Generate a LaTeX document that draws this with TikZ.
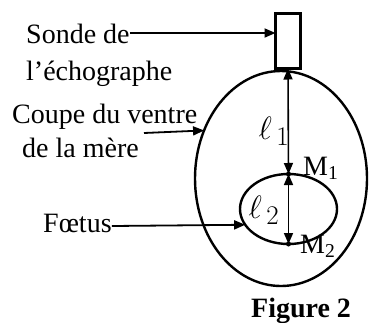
\documentclass[tikz,border=0pt]{standalone}
\usepackage{fontspec}
\setmainfont{Liberation Serif}
\usetikzlibrary{arrows.meta,shapes.geometric}
\tikzset{
  lbl/.style={anchor=base west,inner sep=0pt},
  fleche/.style={line width=1.8pt,-{Triangle[length=11pt,width=9pt]}},
  cote/.style={line width=1.6pt,{Triangle[length=11pt,width=9pt]}-{Triangle[length=11pt,width=9pt]}},
  contour/.style={draw,ellipse,line width=2.4pt,inner sep=0pt,outer sep=0pt},
  point/.style={circle,fill,inner sep=0pt,minimum size=5pt},
  dist/.style={scale=1.3,inner sep=0pt}
}

\begin{document}
\begin{tikzpicture}[x=1pt,y=-1pt,font=\fontsize{28}{34}\selectfont]
\useasboundingbox (0,0) rectangle (371,322);
% sonde, ventre et foetus
\node[draw,line width=3.2pt,minimum width=25pt,minimum height=55pt,inner sep=0pt,outer sep=0pt] (sonde) at (288,41) {};
\node[contour,minimum width=172pt,minimum height=215pt] (ventre) at (281,178.5) {};
\node[contour,minimum width=97pt,minimum height=70pt] (foetus) at (288.5,209) {};
\node[point] (M1) at (foetus.north) {};
\node[point] (M2) at (foetus.south) {};
% distances
\draw[cote] (sonde.south) -- (foetus.north);
\draw[cote] (foetus.north) -- (foetus.south);
\node[dist] (l1) at (274,131) {$\ell_{\,1}$};
\node[dist] (l2) at (264,210) {$\ell_{\,2}$};
\node[lbl] (m1) at (303,175) {M\textsubscript{1}};
\node[lbl] (m2) at (300,253) {M\textsubscript{2}};
% legendes
\node[lbl] (tsonde) at (26,43) {Sonde de};
\node[lbl] (techo) at (26,80) {l’échographe};
\node[lbl] (tcoupe) at (12,123) {Coupe du ventre};
\node[lbl] (tmere) at (22,157) {de la mère};
\node[lbl] (tfoetus) at (43,232) {Fœtus};
\node[lbl,font=\fontsize{28}{34}\selectfont\bfseries] (titre) at (251,317) {Figure 2};
\coordinate (c0) at (144,133);
\draw[fleche] ([yshift=10pt]tsonde.base east) coordinate (s0) -- (s0 -| sonde.west);
\draw[fleche] (c0) -- (ventre.148);
\draw[fleche] ([yshift=6pt]tfoetus.base east) -- (foetus.200);
\end{tikzpicture}
\end{document}
